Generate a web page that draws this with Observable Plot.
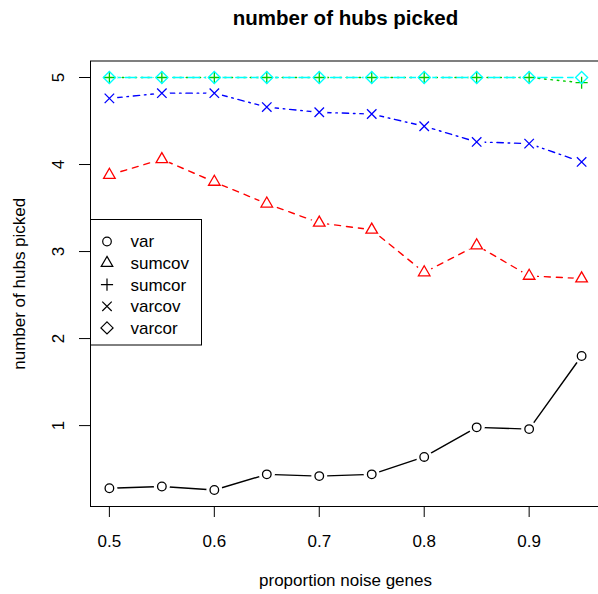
<!DOCTYPE html>
<html>
<head>
<meta charset="utf-8">
<script src="https://cdn.jsdelivr.net/npm/d3@7"></script>
<script src="https://cdn.jsdelivr.net/npm/@observablehq/plot@0.6"></script>
<style>
  html, body { margin: 0; padding: 0; background: white; overflow: hidden; }
  #chart svg { display: block; font-family: "Liberation Sans", Arial, Helvetica, sans-serif; }
</style>
</head>
<body>
<div id="chart"></div>
<script>
// ---- data ----
const proportion = [0.5, 0.55, 0.6, 0.65, 0.7, 0.75, 0.8, 0.85, 0.9, 0.95];
const seriesNames = ["var", "sumcov", "sumcor", "varcov", "varcor"];
const varValues    = [0.28, 0.30, 0.26, 0.44, 0.42, 0.44, 0.64, 0.98, 0.96, 1.80];
const sumcovValues = [3.88, 4.06, 3.80, 3.55, 3.33, 3.25, 2.76, 3.07, 2.72, 2.69];
const sumcorValues = [5, 5, 5, 5, 5, 5, 5, 5, 5, 4.94];
const varcovValues = [4.76, 4.82, 4.82, 4.66, 4.60, 4.58, 4.44, 4.26, 4.24, 4.03];
const varcorValues = [5, 5, 5, 5, 5, 5, 5, 5, 5, 5];
const xTicks = [0.5, 0.6, 0.7, 0.8, 0.9];
const yTicks = [1, 2, 3, 4, 5];
const titleText = "number of hubs picked";
const xLabel = "proportion noise genes";
const yLabel = "number of hubs picked";

// ---- styles ----
const colors = ["#000000", "#FF0000", "#00CD00", "#0000FF", "#00FFFF"];
const dashes = [null, "6,6", "1.6,4.8", "1.6,4.8,6.4,4.8", "11,4.8"];

// R-like pch symbols (1..5)
const rad = s => Math.sqrt(s / Math.PI);
const pch1 = {draw(c, s) { const r = rad(s); c.moveTo(r, 0); c.arc(0, 0, r, 0, 2 * Math.PI); }};
const pch2 = {draw(c, s) { const r = rad(s); const xc = r * 1.5551, hw = 0.866 * xc, yc = 0.5 * xc;
  c.moveTo(0, -xc); c.lineTo(hw, yc); c.lineTo(-hw, yc); c.closePath(); }};
const pch3 = {draw(c, s) { const r = rad(s) * 1.414; c.moveTo(-r, 0); c.lineTo(r, 0); c.moveTo(0, -r); c.lineTo(0, r); }};
const pch4 = {draw(c, s) { const r = rad(s) * 1.1; c.moveTo(-r, -r); c.lineTo(r, r); c.moveTo(-r, r); c.lineTo(r, -r); }};
const pch5 = {draw(c, s) { const r = rad(s) * 1.414; c.moveTo(0, -r); c.lineTo(r, 0); c.lineTo(0, r); c.lineTo(-r, 0); c.closePath(); }};
const symbols = [pch1, pch2, pch3, pch4, pch5];
const symR = 4.3;

const allValues = [varValues, sumcovValues, sumcorValues, varcovValues, varcorValues];
const series = seriesNames.map((name, k) => proportion.map((x, i) => ({x, y: allValues[k][i], name})));
const allRows = series.flat();

// R-style 4% axis extension
const xMin = d3.min(proportion), xMax = d3.max(proportion);
const yMin = d3.min(allRows, d => d.y), yMax = d3.max(allRows, d => d.y);
const xPad = (xMax - xMin) * 0.04, yPad = (yMax - yMin) * 0.04;

const font = "Liberation Sans, Arial, Helvetica, sans-serif";

const marks = [];
marks.push(Plot.frame({stroke: "#000", strokeWidth: 1}));
series.forEach((rows, k) => {
  marks.push(Plot.line(rows, {x: "x", y: "y", stroke: colors[k], strokeWidth: 1.4, strokeDasharray: dashes[k]}));
});
marks.push(Plot.dot(allRows, {x: "x", y: "y", r: 8, fill: "white", stroke: null}));
series.forEach((rows, k) => {
  marks.push(Plot.dot(rows, {x: "x", y: "y", r: symR, symbol: symbols[k], stroke: colors[k], fill: "none", strokeWidth: 1.3}));
});
marks.push(Plot.axisX({ticks: xTicks, tickSize: 11, tickFormat: () => "", label: null, stroke: "#000"}));
marks.push(Plot.axisY({ticks: yTicks, tickSize: 11, tickFormat: () => "", label: null, stroke: "#000"}));
marks.push(Plot.text(xTicks, {x: d => d, frameAnchor: "bottom", lineAnchor: "middle", textAnchor: "middle", dy: 35, text: d => d3.format(".1f")(d), fontSize: 17, fill: "#000"}));
marks.push(Plot.text(yTicks, {y: d => d, frameAnchor: "left", lineAnchor: "middle", textAnchor: "middle", dx: -31.5, rotate: -90, text: d => String(d), fontSize: 17, fill: "#000"}));
marks.push(Plot.text([titleText], {frameAnchor: "top", lineAnchor: "middle", textAnchor: "middle", dy: -43, text: d => d, fontSize: 20.5, fontWeight: "bold", fill: "#000"}));
marks.push(Plot.text([xLabel], {frameAnchor: "bottom", lineAnchor: "middle", textAnchor: "middle", dy: 73.6, text: d => d, fontSize: 17, fill: "#000"}));
marks.push(Plot.text([yLabel], {frameAnchor: "left", lineAnchor: "middle", textAnchor: "middle", dx: -71, rotate: -90, text: d => d, fontSize: 17, fill: "#000"}));

const chart = Plot.plot({
  width: 598,
  height: 594,
  marginLeft: 90,
  marginRight: -2,
  marginTop: 60.5,
  marginBottom: 88,
  style: {fontFamily: font, fontSize: "17px", background: "white", overflow: "hidden"},
  x: {domain: [xMin - xPad, xMax + xPad]},
  y: {domain: [yMin - yPad, yMax + yPad]},
  marks
});

// ---- legend (inside the plot, top-left) ----
const svg = d3.select(chart);
const lg = svg.append("g").attr("font-family", font).attr("font-size", 17).attr("text-anchor", "start");
lg.append("rect").attr("x", 90.5).attr("y", 219.5).attr("width", 111).attr("height", 125.5)
  .attr("fill", "white").attr("stroke", "#000").attr("stroke-width", 1);
seriesNames.forEach((name, k) => {
  const cy = 241.5 + k * 21.6;
  lg.append("path")
    .attr("d", d3.symbol(symbols[k], Math.PI * symR * symR)())
    .attr("transform", `translate(107,${cy})`)
    .attr("fill", "none").attr("stroke", "#000").attr("stroke-width", 1.2);
  lg.append("text").attr("x", 130.5).attr("y", cy).attr("dy", "0.35em")
    .attr("text-anchor", "start").attr("fill", "#000").text(name);
});

document.getElementById("chart").appendChild(chart);
</script>
</body>
</html>
